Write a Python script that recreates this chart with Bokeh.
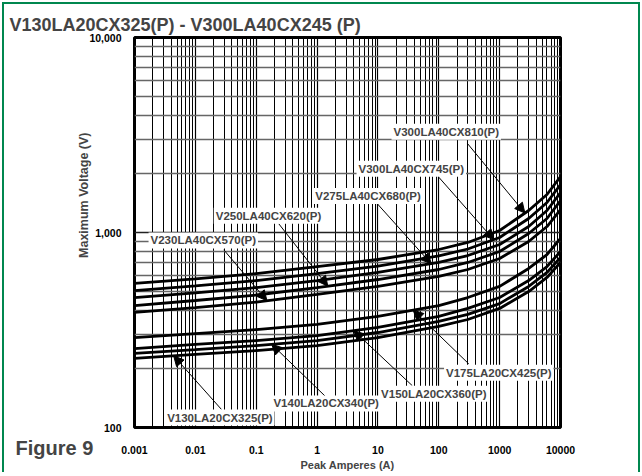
import numpy as np
from bokeh.plotting import figure
from bokeh.models import (Range1d, FixedTicker, NumeralTickFormatter, Label,
                          Arrow, NormalHead, Title)
from bokeh.embed import file_html
from bokeh.resources import INLINE

# ---------------- data ----------------
chart_title = "V130LA20CX325(P) - V300LA40CX245 (P)"
figure_tag = "Figure 9"
x_label = "Peak Amperes (A)"
y_label = "Maximum Voltage (V)"

currents = [0.001, 0.01, 0.1, 1, 10, 100, 300, 1000, 3000, 6000, 10000]

v300_810 = [548, 578, 616, 669, 727, 818, 889, 1024, 1297, 1566, 1938]
v300_745 = [504, 532, 567, 616, 673, 758, 823, 943, 1180, 1425, 1763]
v275_680 = [464, 490, 522, 567, 624, 702, 762, 868, 1073, 1297, 1604]
v250_620 = [422, 448, 478, 522, 574, 646, 702, 799, 988, 1180, 1459]
v230_570 = [389, 412, 440, 481, 529, 595, 646, 736, 899, 1073, 1312]
v175_425 = [289, 303, 318, 338, 371, 422, 464, 529, 654, 771, 932]
v150_360 = [254, 267, 279, 296, 326, 371, 408, 464, 567, 669, 799]
v140_340 = [240, 251, 263, 279, 307, 350, 380, 432, 529, 624, 744]
v130_325 = [226, 237, 248, 263, 289, 330, 358, 408, 498, 588, 702]

series_names = ["V300LA40CX810(P)", "V300LA40CX745(P)", "V275LA40CX680(P)",
                "V250LA40CX620(P)", "V230LA40CX570(P)", "V175LA20CX425(P)",
                "V150LA20CX360(P)", "V140LA20CX340(P)", "V130LA20CX325(P)"]
series_values = [v300_810, v300_745, v275_680, v250_620, v230_570,
                 v175_425, v150_360, v140_340, v130_325]

x_tick_values = [0.001, 0.01, 0.1, 1, 10, 100, 1000, 10000]
y_tick_values = [100, 1000, 10000]

# callout annotations (label centre, arrow start, current the arrow points at)
label_x = [132.7, 35.3, 6.87, 0.159, 0.0135, 968, 82.8, 1.41, 0.0253]
label_y = [3284, 2122, 1539, 1218, 910, 191, 148.9, 132.8, 112.5]
arrow_x0 = [293, 100, 9.7, 0.235, 0.0293, 311, 36.6, 1.43, 0.0269]
arrow_y0 = [2871, 1921, 1408, 1108, 815, 212, 164, 142.5, 123.7]
arrow_tip_current = [2600, 800, 75, 1.5, 0.15, 38, 4, 0.18, 0.0044]

FONT = "Liberation Sans"
GREEN = "#00874F"

p = figure(x_axis_type="log", y_axis_type="log",
           x_range=Range1d(0.001, 10000), y_range=Range1d(100, 10000),
           frame_width=426, frame_height=390,
           min_border_left=134, min_border_right=82,
           min_border_top=37, min_border_bottom=49,
           output_backend="svg", toolbar_location=None,
           title=chart_title)
# thin green frame around the whole figure (drawn behind a transparent border)
p.styles = {"background-color": "white",
            "box-shadow": f"inset 0 0 0 2px white, inset 0 0 0 4px {GREEN}",
            "clip-path": "inset(0px 0px 4px 0px)"}
p.background_fill_color = "white"
p.border_fill_color = None
p.outline_line_color = "black"
p.outline_line_width = 3

p.title.text_font = FONT
p.title.text_font_size = "18px"
p.title.text_font_style = "bold"
p.title.align = "left"
p.title.offset = -125
p.title.standoff = 6

# axes / ticks
p.xaxis.ticker = FixedTicker(
    ticks=x_tick_values,
    minor_ticks=[m * 10.0 ** k for k in range(-3, 4) for m in range(2, 10)])
p.yaxis.ticker = FixedTicker(
    ticks=y_tick_values,
    minor_ticks=[m * 10.0 ** k for k in range(2, 4) for m in range(2, 10)])
p.xaxis.formatter = NumeralTickFormatter(format="0.[000]")
p.yaxis.formatter = NumeralTickFormatter(format="0,0")
for ax in (p.xaxis, p.yaxis):
    ax.axis_line_color = None
    ax.major_tick_line_color = None
    ax.minor_tick_line_color = None
    ax.major_label_text_font = FONT
    ax.major_label_text_font_style = "bold"
    ax.major_label_text_font_size = "10.5px"
    ax.major_label_text_color = "black"
p.xaxis.major_label_standoff = 12
p.yaxis.major_label_standoff = 7
p.xaxis.axis_label = x_label
p.xaxis.axis_label_text_font = FONT
p.xaxis.axis_label_text_font_style = "bold"
p.xaxis.axis_label_text_font_size = "11px"
p.xaxis.axis_label_standoff = 2

# grid
p.xgrid.grid_line_color = "black"
p.xgrid.grid_line_width = 1.2
p.xgrid.minor_grid_line_color = "black"
p.xgrid.minor_grid_line_width = 1
p.ygrid.grid_line_color = "#222222"
p.ygrid.grid_line_width = 1.6
p.ygrid.minor_grid_line_color = "#666666"
p.ygrid.minor_grid_line_width = 1.6

# curves
for vals in series_values:
    p.line(currents, vals, line_color="black", line_width=2.8)

# callouts
lc = np.log10(currents)
for vals, ax0, ay0, tip in zip(series_values, arrow_x0, arrow_y0,
                               arrow_tip_current):
    tip_v = 10 ** np.interp(np.log10(tip), lc, np.log10(vals))
    p.add_layout(Arrow(end=NormalHead(size=10, fill_color="black",
                                      line_color="black", line_width=1),
                       x_start=ax0, y_start=ay0, x_end=tip, y_end=float(tip_v),
                       line_color="black", line_width=1))
for name, lx, ly in zip(series_names, label_x, label_y):
    p.add_layout(Label(x=lx, y=ly, text=name, text_align="center",
                       text_baseline="middle", text_font=FONT,
                       text_font_style="bold", text_font_size="11.5px",
                       background_fill_color="white", padding=2))

# y axis title (placed like the reference, above centre)
p.add_layout(Title(text=y_label, align="right", offset=95,
                   text_font=FONT, text_font_style="bold",
                   text_font_size="12.5px", standoff=-9), "left")

# "Figure 9" tag, living in the outermost left panel (not clipped)
p.add_layout(Label(x=14, y=-20, x_units="screen", y_units="screen",
                   text=figure_tag, text_font=FONT, text_font_style="bold",
                   text_font_size="20px", text_baseline="middle"), "left")

open("out.html", "w").write(file_html(p, INLINE))
